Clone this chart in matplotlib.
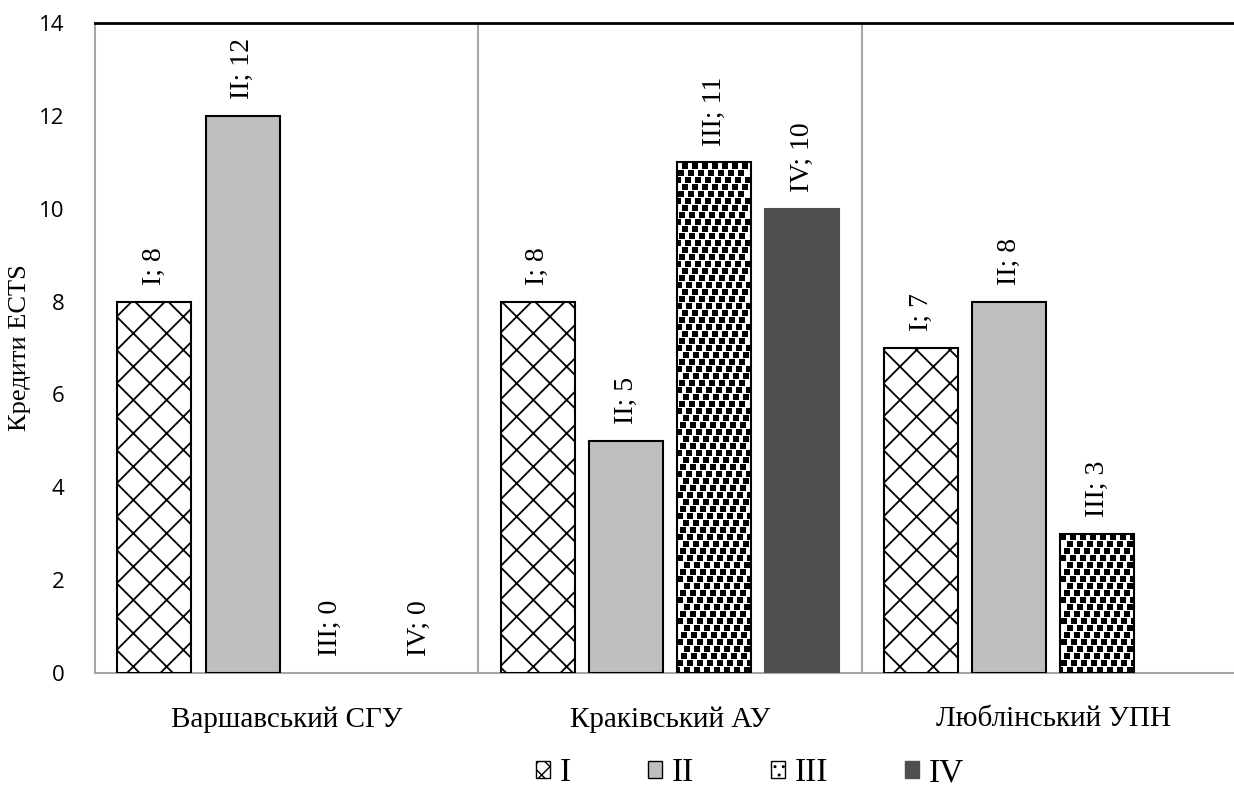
import numpy as np
import matplotlib
matplotlib.use('Agg')
import matplotlib.pyplot as plt
from matplotlib.patches import Patch

# Дані
universities = ['Варшавський СГУ', 'Краківський АУ', 'Люблінський УПН']
series = ['I', 'II', 'III', 'IV']
credits_I = [8, 8, 7]
credits_II = [12, 5, 8]
credits_III = [0, 11, 3]
credits_IV = [0, 10, np.nan]
values = [credits_I, credits_II, credits_III, credits_IV]

# Стилі серій: колір заливки, штрихування, колір рамки, товщина штриха
styles = [
    dict(facecolor='white', hatch='x', edgecolor='black', hlw=1.3, dots=False),
    dict(facecolor='#BFBFBF', hatch=None, edgecolor='black', hlw=1.0, dots=False),
    dict(facecolor='white', hatch=None, edgecolor='black', hlw=1.0, dots=True),
    dict(facecolor='#4F4F4F', hatch=None, edgecolor='#4F4F4F', hlw=1.0, dots=False),
]

serif = 'Liberation Serif'
W, H = 1234, 807

fig = plt.figure(figsize=(W / 100, H / 100), dpi=100)
ax_w, ax_h = 1150, 650
ax = fig.add_axes([95 / W, 134 / H, ax_w / W, ax_h / H])

x = np.arange(len(universities))
width = 0.193
step = 0.23
ax.set_xlim(-0.5, len(universities) - 0.5)
ax.set_ylim(0, 14)

# пікселі -> одиниці даних (для візерунка)
px_x = len(universities) / ax_w
px_y = 14 / ax_h


def confetti(bar):
    # візерунок з чорних квадратиків, обрізаний по стовпчику
    x0, w = bar.get_x(), bar.get_width()
    h = bar.get_height()
    if h <= 0:
        return
    sp_x, sp_y, shift = 10, 7, 3.3
    xs, ys = [], []
    row = 0
    yy = 3 * px_y
    while yy < h:
        off = ((row * shift) % sp_x) * px_x
        xx = x0 + off
        while xx < x0 + w:
            xs.append(xx)
            ys.append(yy)
            xx += sp_x * px_x
        yy += sp_y * px_y
        row += 1
    sc = ax.scatter(xs, ys, marker='s', s=15, color='black', linewidths=0, zorder=4)
    sc.set_clip_path(bar)


handles = []
for i, (name, vals) in enumerate(zip(series, values)):
    st = styles[i]
    vals = np.array(vals, dtype=float)
    pos = x + (i - 1.5) * step
    with plt.rc_context({'hatch.linewidth': st['hlw']}):
        bars = ax.bar(pos, np.nan_to_num(vals), width, facecolor=st['facecolor'],
                      edgecolor=st['edgecolor'], hatch=st['hatch'], linewidth=1.5, zorder=3)
    with plt.rc_context({'hatch.linewidth': 3.0 if st['dots'] else 1.0}):
        leg_hatch = '..' if st['dots'] else ('xx' if st['hatch'] else None)
        handles.append(Patch(facecolor=st['facecolor'], edgecolor=st['edgecolor'],
                             hatch=leg_hatch, linewidth=1.0, label=name))
    for b, v in zip(bars, vals):
        if np.isnan(v):
            b.set_visible(False)
            continue
        if v == 0:
            b.set_linewidth(0)
        if st['dots']:
            confetti(b)
            b.set_zorder(5)
            b.set_facecolor('none')
            ax.bar(b.get_x() + b.get_width() / 2, v, width, color='white', zorder=2)
        ax.annotate(f'{name}; {int(v)}', (b.get_x() + b.get_width() / 2, v),
                    xytext=(0, 12), textcoords='offset points', rotation=90,
                    ha='center', va='bottom', fontsize=20, family=serif)

# Вертикальні роздільники між категоріями
for sep in x[:-1] + 0.5:
    ax.axvline(sep, color='#A6A6A6', lw=1.5, zorder=1)

ax.set_yticks(np.arange(0, 15, 2))
ax.set_xticks(x)
ax.set_xticklabels(universities, family=serif, fontsize=21)
for t in ax.get_yticklabels():
    t.set_family('Open Sans')
    t.set_fontsize(16)
ax.tick_params(axis='x', length=0, pad=24)
ax.tick_params(axis='y', length=0, pad=22)

ax.set_ylabel('Кредити ECTS', family=serif, fontsize=19)
ax.yaxis.set_label_coords(-64 / ax_w, 0.5)

ax.spines['left'].set_color('#A6A6A6')
ax.spines['left'].set_linewidth(1.5)
ax.spines['bottom'].set_color('#A6A6A6')
ax.spines['bottom'].set_linewidth(1.5)
ax.spines['top'].set_color('black')
ax.spines['top'].set_linewidth(2)
ax.spines['right'].set_visible(False)

fig.legend(handles=handles, loc='center', bbox_to_anchor=(750 / W, 1 - 773 / H),
           ncol=4, frameon=False, prop={'family': serif, 'size': 24},
           handlelength=0.42, handleheight=0.42, handletextpad=0.3, columnspacing=2.3)

fig.savefig('out.png', dpi=100)
